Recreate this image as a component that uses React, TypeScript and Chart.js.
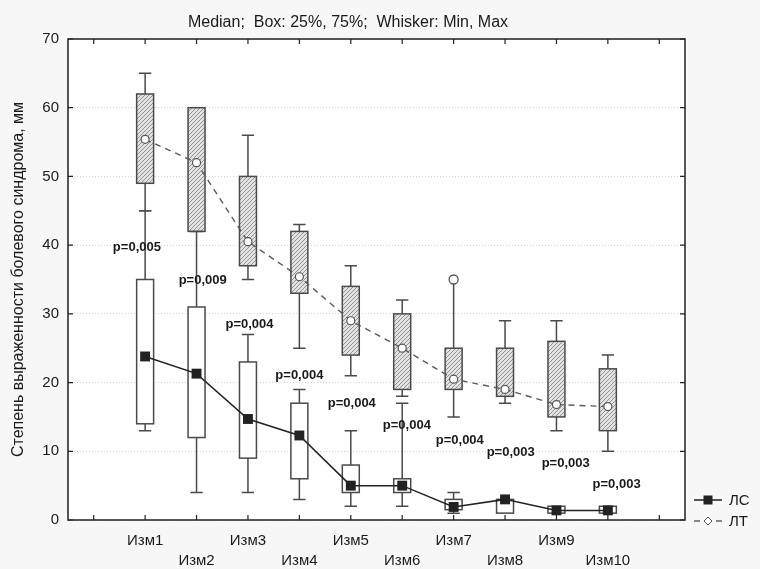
import React, { useEffect, useRef } from 'react';
import { Chart, registerables } from 'chart.js';

Chart.register(...registerables);

// ---------- data ----------
const categories = ['Изм1', 'Изм2', 'Изм3', 'Изм4', 'Изм5', 'Изм6', 'Изм7', 'Изм8', 'Изм9', 'Изм10'];

// ЛС
const lsMin = [13, 4, 4, 3, 2, 2, 1, 1, 1, 1];
const lsQ1 = [14, 12, 9, 6, 4, 4, 1.5, 1, 1, 1];
const lsMedian = [23.8, 21.3, 14.7, 12.3, 5, 5, 1.9, 3, 1.4, 1.4];
const lsQ3 = [35, 31, 23, 17, 8, 6, 3, 3, 2, 2];
const lsMax = [45, 42, 27, 19, 13, 17, 4, 3, 2, 2];

// ЛТ
const ltMin = [45, 42, 35, 25, 21, 18, 15, 17, 13, 10];
const ltQ1 = [49, 42, 37, 33, 24, 19, 19, 18, 15, 13];
const ltMedian = [55.4, 52, 40.5, 35.4, 29, 25, 20.5, 19, 16.8, 16.5];
const ltQ3 = [62, 60, 50, 42, 34, 30, 25, 25, 26, 22];
const ltMax = [65, 60, 56, 43, 37, 32, 35, 29, 29, 24];
const ltOutliers = [null, null, null, null, null, null, 35, null, null, null];

// p-value annotations (x in category units, y in data units)
const pLabels = ['p=0,005', 'p=0,009', 'p=0,004', 'p=0,004', 'p=0,004', 'p=0,004', 'p=0,004', 'p=0,003', 'p=0,003', 'p=0,003'];
const pLabelX = [0.84, 2.12, 3.03, 4.0, 5.02, 6.09, 7.12, 8.11, 9.18, 10.17];
const pLabelY = [39.7, 34.8, 28.4, 21.1, 16.9, 13.8, 11.6, 9.8, 8.3, 5.2];

const yTicks = [0, 10, 20, 30, 40, 50, 60, 70];
const xTickMarks = [0, 1, 2, 3, 4, 5, 6, 7, 8, 9, 10, 11];

const chartTitle = 'Median;  Box: 25%, 75%;  Whisker: Min, Max';
const yTitle = 'Степень выраженности болевого синдрома, мм';
const seriesNames = ['ЛС', 'ЛТ'];

const FONT = 'Arial, "Liberation Sans", sans-serif';

function makeHatch(): CanvasPattern | string {
  const c = document.createElement('canvas');
  c.width = 4;
  c.height = 4;
  const g = c.getContext('2d');
  if (!g) return '#d8d8d8';
  g.fillStyle = '#e2e2e2';
  g.fillRect(0, 0, 4, 4);
  g.strokeStyle = '#8c8c8c';
  g.lineWidth = 0.9;
  g.beginPath();
  g.moveTo(0, 4); g.lineTo(4, 0);
  g.moveTo(-1, 1); g.lineTo(1, -1);
  g.moveTo(3, 5); g.lineTo(5, 3);
  g.stroke();
  const p = g.createPattern(c, 'repeat');
  return p || '#d8d8d8';
}

export default function App() {
  const ref = useRef<HTMLCanvasElement | null>(null);

  useEffect(() => {
    document.body.style.margin = '0';
    const canvas = ref.current;
    if (!canvas) return;
    const hatch = makeHatch();

    const drawBoxes = (chart: any, mins: number[], q1s: number[], q3s: number[], maxs: number[], fill: any, outliers: (number | null)[] | null) => {
      const { ctx } = chart;
      const xs = chart.scales.x;
      const ys = chart.scales.y;
      const slot = xs.getPixelForValue(1) - xs.getPixelForValue(0);
      const half = slot * 0.165;
      const capHalf = slot * 0.12;
      ctx.save();
      ctx.strokeStyle = '#4a4a4a';
      ctx.lineWidth = 1.5;
      for (let i = 0; i < categories.length; i++) {
        const cx = xs.getPixelForValue(i + 1);
        const yMin = ys.getPixelForValue(mins[i]);
        const yQ1 = ys.getPixelForValue(q1s[i]);
        const yQ3 = ys.getPixelForValue(q3s[i]);
        const yMax = ys.getPixelForValue(maxs[i]);
        const out = outliers ? outliers[i] : null;
        ctx.beginPath();
        if (maxs[i] > q3s[i]) {
          ctx.moveTo(cx, yQ3); ctx.lineTo(cx, yMax);
          if (out === null || out !== maxs[i]) {
            ctx.moveTo(cx - capHalf, yMax); ctx.lineTo(cx + capHalf, yMax);
          }
        }
        if (mins[i] < q1s[i]) {
          ctx.moveTo(cx, yQ1); ctx.lineTo(cx, yMin);
          ctx.moveTo(cx - capHalf, yMin); ctx.lineTo(cx + capHalf, yMin);
        }
        ctx.stroke();
        ctx.fillStyle = fill;
        ctx.fillRect(cx - half, yQ3, half * 2, yQ1 - yQ3);
        ctx.strokeRect(cx - half, yQ3, half * 2, yQ1 - yQ3);
        if (out !== null) {
          ctx.beginPath();
          ctx.arc(cx, ys.getPixelForValue(out), 4.5, 0, Math.PI * 2);
          ctx.fillStyle = '#ffffff';
          ctx.fill();
          ctx.lineWidth = 1.3;
          ctx.strokeStyle = '#555';
          ctx.stroke();
          ctx.lineWidth = 1.5;
          ctx.strokeStyle = '#4a4a4a';
        }
      }
      ctx.restore();
    };

    const plugin = {
      id: 'boxplotDecor',
      beforeDraw(chart: any) {
        const { ctx, chartArea: a, width, height } = chart;
        ctx.save();
        ctx.fillStyle = '#f7f7f7';
        ctx.fillRect(0, 0, width, height);
        ctx.fillStyle = '#ffffff';
        ctx.fillRect(a.left, a.top, a.right - a.left, a.bottom - a.top);
        ctx.restore();
      },
      beforeDatasetsDraw(chart: any) {
        drawBoxes(chart, ltMin, ltQ1, ltQ3, ltMax, hatch, ltOutliers);
        drawBoxes(chart, lsMin, lsQ1, lsQ3, lsMax, '#ffffff', null);
      },
      afterDraw(chart: any) {
        const { ctx, chartArea: a } = chart;
        const xs = chart.scales.x;
        const ys = chart.scales.y;
        ctx.save();
        // frame
        ctx.strokeStyle = '#222';
        ctx.lineWidth = 1.5;
        ctx.strokeRect(a.left, a.top, a.right - a.left, a.bottom - a.top);
        // inward tick marks
        ctx.lineWidth = 1.2;
        ctx.beginPath();
        xTickMarks.forEach((v) => {
          const px = xs.getPixelForValue(v);
          ctx.moveTo(px, a.bottom); ctx.lineTo(px, a.bottom - 5);
          ctx.moveTo(px, a.top); ctx.lineTo(px, a.top + 5);
        });
        yTicks.forEach((v) => {
          const py = ys.getPixelForValue(v);
          ctx.moveTo(a.left, py); ctx.lineTo(a.left + 5, py);
          ctx.moveTo(a.right, py); ctx.lineTo(a.right - 5, py);
        });
        ctx.stroke();

        // title
        ctx.fillStyle = '#1a1a1a';
        ctx.font = '16px ' + FONT;
        ctx.textAlign = 'center';
        ctx.textBaseline = 'alphabetic';
        ctx.fillText(chartTitle, 348, 27);

        // p labels
        ctx.font = 'bold 13px ' + FONT;
        ctx.textBaseline = 'middle';
        pLabels.forEach((t, i) => {
          ctx.fillText(t, xs.getPixelForValue(pLabelX[i]), ys.getPixelForValue(pLabelY[i]));
        });

        // legend
        const lx = 694;
        const ly1 = 500;
        const ly2 = 521;
        ctx.strokeStyle = '#222';
        ctx.lineWidth = 1.5;
        ctx.beginPath();
        ctx.moveTo(lx, ly1); ctx.lineTo(lx + 28, ly1);
        ctx.stroke();
        ctx.fillStyle = '#222';
        ctx.fillRect(lx + 14 - 4.5, ly1 - 4.5, 9, 9);
        ctx.strokeStyle = '#666';
        ctx.lineWidth = 1.3;
        ctx.beginPath();
        ctx.moveTo(lx, ly2); ctx.lineTo(lx + 6, ly2);
        ctx.moveTo(lx + 22, ly2); ctx.lineTo(lx + 28, ly2);
        ctx.stroke();
        ctx.beginPath();
        ctx.moveTo(lx + 14, ly2 - 4); ctx.lineTo(lx + 18, ly2);
        ctx.lineTo(lx + 14, ly2 + 4); ctx.lineTo(lx + 10, ly2);
        ctx.closePath();
        ctx.fillStyle = '#fff';
        ctx.fill();
        ctx.strokeStyle = '#555';
        ctx.lineWidth = 1;
        ctx.stroke();
        ctx.fillStyle = '#1a1a1a';
        ctx.font = '15px ' + FONT;
        ctx.textAlign = 'left';
        ctx.textBaseline = 'middle';
        ctx.fillText(seriesNames[0], lx + 35, ly1 + 1);
        ctx.fillText(seriesNames[1], lx + 35, ly2 + 1);
        ctx.restore();
      },
    };

    Chart.defaults.font.family = FONT;

    const chart = new Chart(canvas, {
      type: 'line',
      data: {
        datasets: [
          {
            label: seriesNames[0],
            data: lsMedian.map((v, i) => ({ x: i + 1, y: v })),
            borderColor: '#222',
            borderWidth: 1.5,
            pointStyle: 'rect',
            pointRadius: 7,
            pointBackgroundColor: '#222',
            pointBorderColor: '#222',
            pointBorderWidth: 0,
            tension: 0,
          },
          {
            label: seriesNames[1],
            data: ltMedian.map((v, i) => ({ x: i + 1, y: v })),
            borderColor: '#5a5a5a',
            borderWidth: 1.4,
            borderDash: [6, 5],
            pointStyle: 'circle',
            pointRadius: 4,
            pointBackgroundColor: '#fff',
            pointBorderColor: '#555',
            pointBorderWidth: 1.2,
            tension: 0,
          },
        ],
      },
      options: {
        responsive: false,
        animation: false,
        devicePixelRatio: 1,
        layout: { padding: { left: 0, right: 75, top: 39, bottom: 0 } },
        plugins: {
          legend: { display: false },
          title: { display: false },
          tooltip: { enabled: false },
        },
        scales: {
          x: {
            type: 'linear',
            min: -0.5,
            max: 11.5,
            grid: { display: false, drawTicks: false },
            border: { display: false },
            afterBuildTicks: (scale: any) => {
              scale.ticks = categories.map((_, i) => ({ value: i + 1 }));
            },
            afterFit: (scale: any) => {
              scale.height = 49;
            },
            ticks: {
              autoSkip: false,
              maxRotation: 0,
              minRotation: 0,
              padding: 11,
              color: '#1a1a1a',
              font: { size: 15, lineHeight: '20px' },
              callback: (value: any) => {
                const i = Math.round(Number(value)) - 1;
                const lbl = categories[i];
                if (lbl === undefined) return '';
                return i % 2 === 0 ? lbl : ['', lbl];
              },
            },
          },
          y: {
            type: 'linear',
            min: 0,
            max: 70,
            grid: { color: '#d4d4d4', lineWidth: 1, drawTicks: false },
            border: { display: false, dash: [1, 2] },
            afterFit: (scale: any) => {
              scale.width = 68;
            },
            ticks: {
              stepSize: 10,
              padding: 9,
              color: '#1a1a1a',
              font: { size: 15 },
            },
            title: {
              display: true,
              text: yTitle,
              color: '#1a1a1a',
              font: { size: 16 },
              padding: { top: 9, bottom: 0 },
            },
          },
        },
      },
      plugins: [plugin],
    } as any);

    return () => {
      chart.destroy();
    };
  }, []);

  return <canvas ref={ref} width={760} height={569} style={{ display: 'block' }} />;
}
